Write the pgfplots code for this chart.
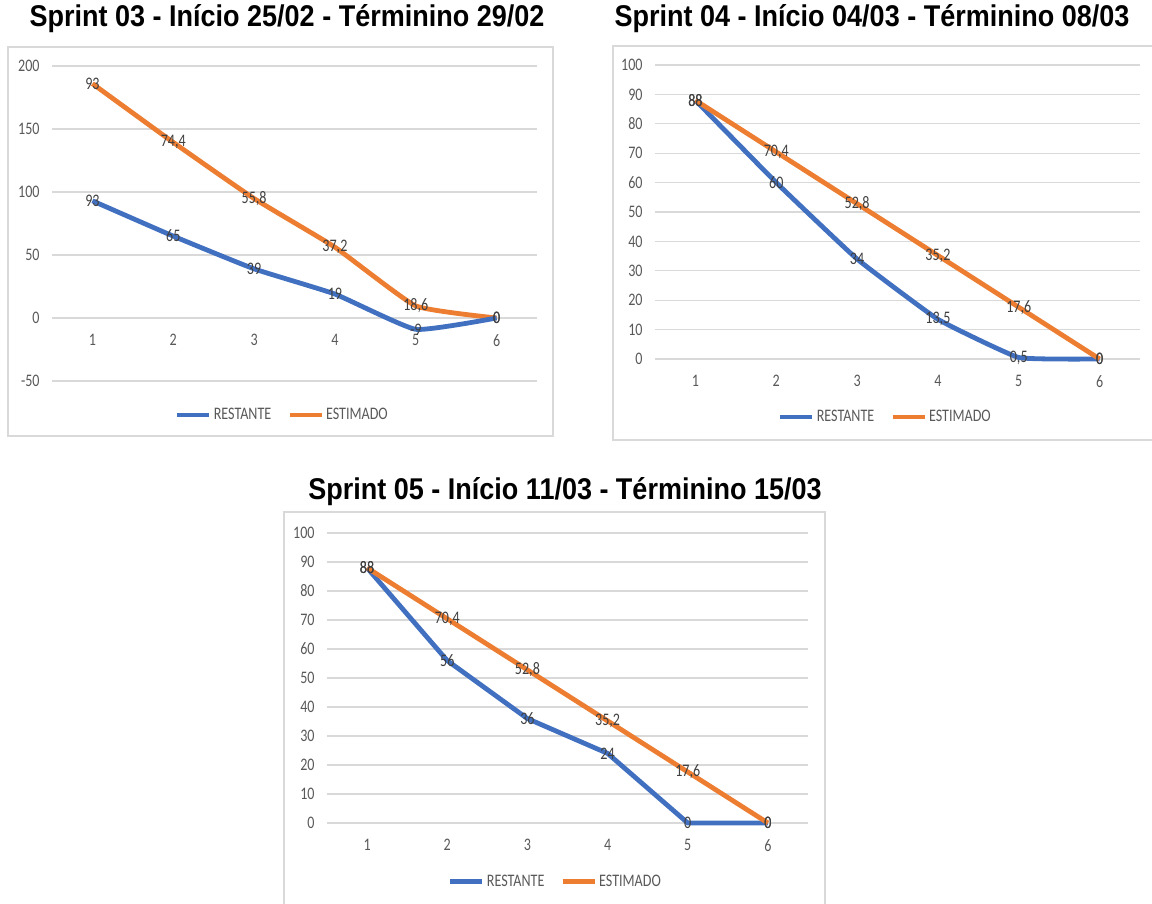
\documentclass[border=0pt]{standalone}
\usepackage{pgfplots}
\pgfplotsset{compat=1.18}
\usepackage{fontspec}
\setmainfont{Carlito}[FakeStretch=0.8]
\newfontfamily\titlefont{Liberation Sans}[FakeStretch=0.9]

\definecolor{xblue}{HTML}{4170C0}
\definecolor{xorange}{HTML}{ED7D31}
\definecolor{gridgray}{HTML}{D9D9D9}
\definecolor{framegray}{HTML}{D9D9D9}
\definecolor{tickgray}{HTML}{595959}
\definecolor{labelgray}{HTML}{404040}

\pgfplotsset{
  burndown/.style={
    scale only axis,
    axis line style={draw=none},
    major tick length=0pt,
    ymajorgrids,
    grid style={line width=0.6pt, color=gridgray},
    xmin=0.5, xmax=6.5, xtick={1,...,6},
    tick label style={font=\fontsize{8.8}{10}\selectfont, text=tickgray},
    yticklabel style={anchor=east, inner sep=0pt, xshift=-6pt},
    xticklabel style={anchor=north, inner sep=0pt},
    /pgf/number format/assume math mode=true,
    legend columns=2,
    legend style={draw=none, fill=none, anchor=center,
      font=\fontsize{8.8}{10}\selectfont, text=tickgray,
      nodes={inner sep=1pt},
      /tikz/every even column/.append style={column sep=7pt}},
    legend image code/.code={\draw[#1, line width=2.4pt] (0pt,0pt) -- (16pt,0pt);},
    point meta=explicit,
    nodes near coords={\pgfmathprintnumber[use comma]{\pgfplotspointmeta}},
    every node near coord/.append style={anchor=center, inner sep=0pt,
      font=\fontsize{8.8}{10}\selectfont, text=labelgray},
    clip=false,
  },
  rest/.style={xblue, line width=2.4pt},
  est/.style={xorange, line width=2.4pt},
}

\begin{document}
\begin{tikzpicture}
\path[use as bounding box] (0,0) rectangle (576pt,452pt);

% frames and titles
\draw[framegray, line width=0.6pt] (4pt,234pt) rectangle (276.5pt,428.5pt);
\draw[framegray, line width=0.6pt] (306.5pt,232pt) rectangle (580pt,429pt);
\draw[framegray, line width=0.6pt] (142pt,-5pt) rectangle (412.5pt,196pt);

\node[anchor=base, font=\titlefont\bfseries\fontsize{15}{18}\selectfont] at (143.5pt,438.5pt)
  {Sprint 03 - Início 25/02 - Términino 29/02};
\node[anchor=base, font=\titlefont\bfseries\fontsize{15}{18}\selectfont] at (436pt,438.5pt)
  {Sprint 04 - Início 04/03 - Términino 08/03};
\node[anchor=base, font=\titlefont\bfseries\fontsize{15}{18}\selectfont] at (282.5pt,202pt)
  {Sprint 05 - Início 11/03 - Términino 15/03};

% Sprint 03 (stacked lines)
\begin{axis}[burndown,
    at={(26pt,261.5pt)}, anchor=south west,
    width=242.5pt, height=157.5pt,
    ymin=-50, ymax=200, ytick={-50,0,...,200},
    xticklabel style={yshift=23.5pt},
    stack plots=y,
    legend style={at={(0.475,-0.108)}},
  ]
  \addplot[rest, smooth, tension=0.25] coordinates {
    (1,93)[93] (2,65)[65] (3,39)[39] (4,19)[19] (5,-9)[-9] (6,0)[0]
  };
  \addlegendentry{RESTANTE}
  \addplot[est, smooth, tension=0.25] coordinates {
    (1,93)[93] (2,74.4)[74.4] (3,55.8)[55.8] (4,37.2)[37.2] (5,18.6)[18.6] (6,0)[0]
  };
  \addlegendentry{ESTIMADO}
\end{axis}

% Sprint 04
\begin{axis}[burndown,
    at={(327.5pt,272.5pt)}, anchor=south west,
    width=242.5pt, height=147pt,
    ymin=0, ymax=100, ytick={0,10,...,100},
    xticklabel style={yshift=-8pt},
    legend style={at={(0.475,-0.197)}},
  ]
  \addplot[rest, smooth, tension=0.2] coordinates {
    (1,88)[88] (2,60)[60] (3,34)[34] (4,13.5)[13.5] (5,0.5)[0.5] (6,0)[0]
  };
  \addlegendentry{RESTANTE}
  \addplot[est, smooth, tension=0.2] coordinates {
    (1,88)[88] (2,70.4)[70.4] (3,52.8)[52.8] (4,35.2)[35.2] (5,17.6)[17.6] (6,0)[0]
  };
  \addlegendentry{ESTIMADO}
\end{axis}

% Sprint 05
\begin{axis}[burndown,
    at={(163.5pt,40.5pt)}, anchor=south west,
    width=240.5pt, height=145pt,
    ymin=0, ymax=100, ytick={0,10,...,100},
    xticklabel style={yshift=-8pt},
    legend style={at={(0.475,-0.203)}},
  ]
  \addplot[rest] coordinates {
    (1,88)[88] (2,56)[56] (3,36)[36] (4,24)[24] (5,0)[0] (6,0)[0]
  };
  \addlegendentry{RESTANTE}
  \addplot[est] coordinates {
    (1,88)[88] (2,70.4)[70.4] (3,52.8)[52.8] (4,35.2)[35.2] (5,17.6)[17.6] (6,0)[0]
  };
  \addlegendentry{ESTIMADO}
\end{axis}
\end{tikzpicture}
\end{document}
